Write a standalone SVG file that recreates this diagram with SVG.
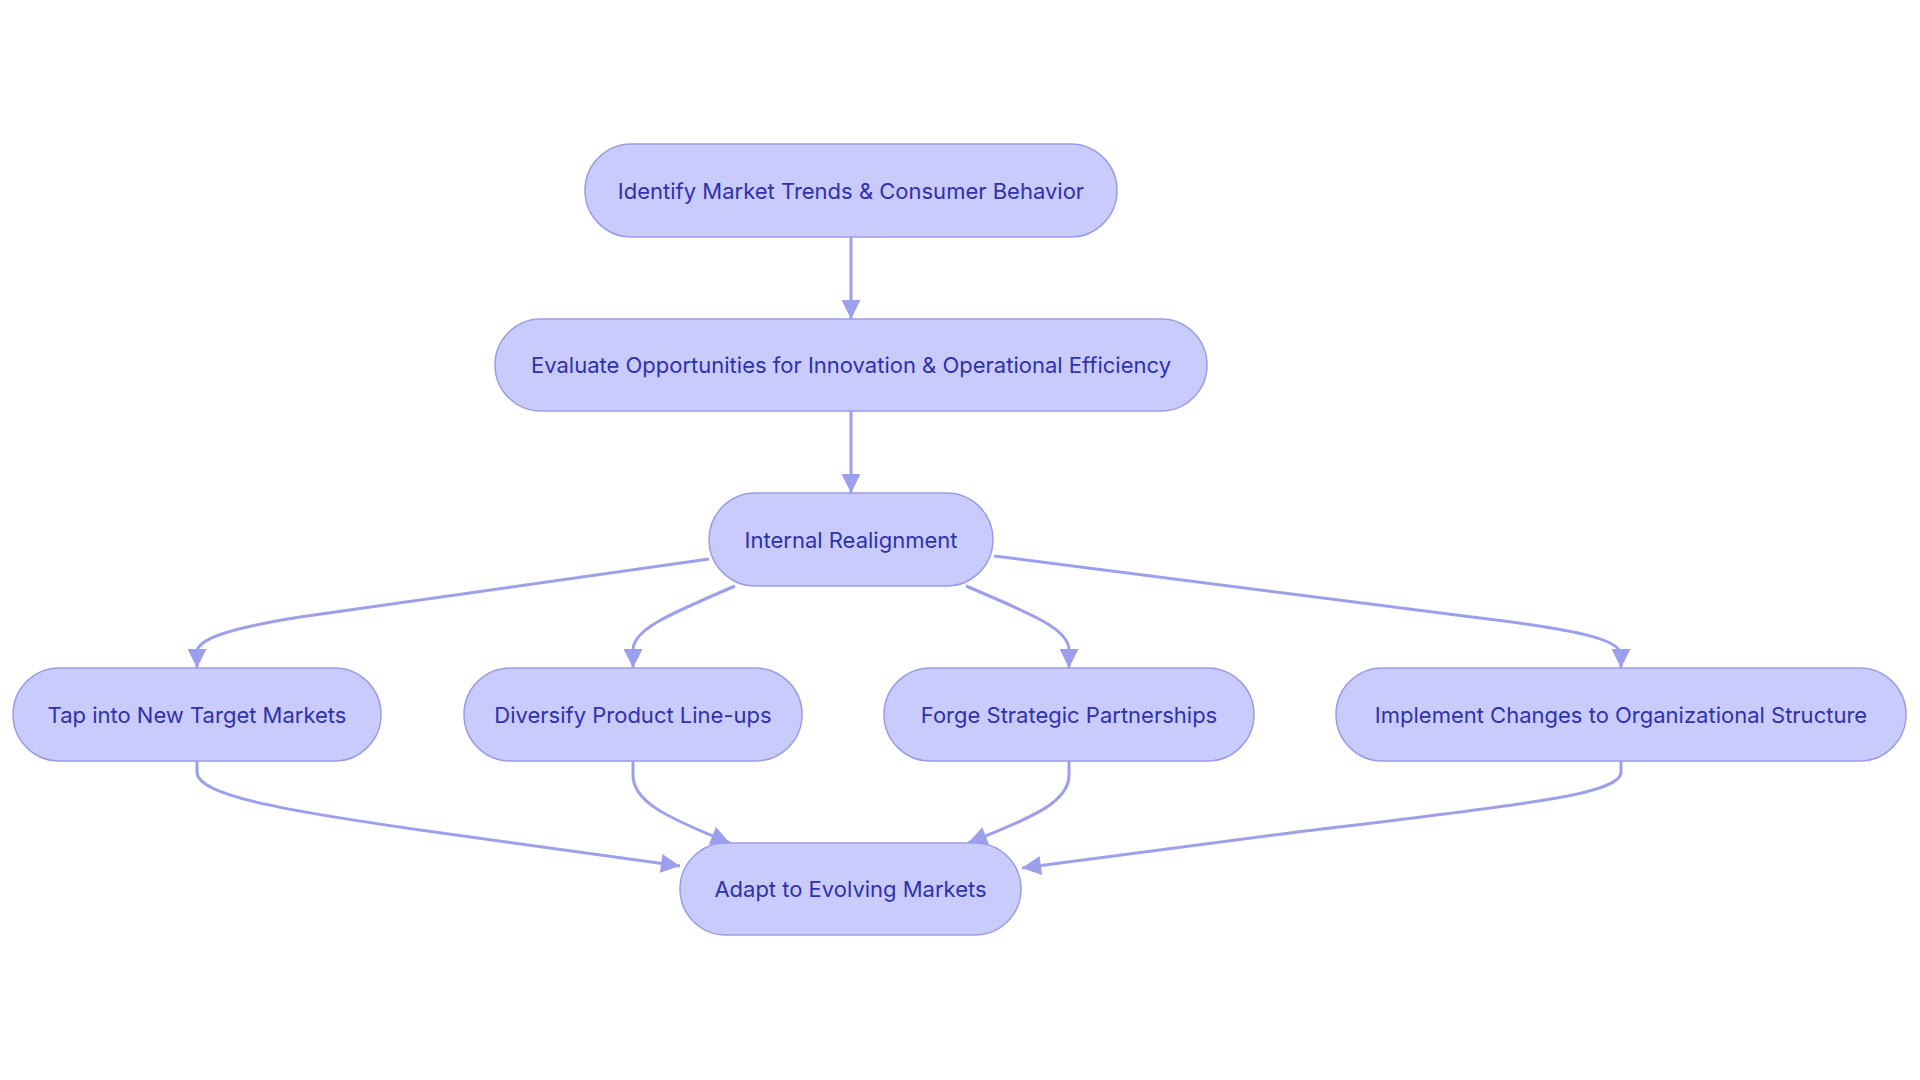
<svg xmlns="http://www.w3.org/2000/svg" width="1920" height="1080" viewBox="0 0 1920 1080">
<style>
.node rect{fill:#c8cbfc;stroke:#9a9de6;stroke-width:1.5}
.node text{font-family:Inter,"Noto Sans",sans-serif;font-size:22px;fill:#2f31ad;text-anchor:middle;dominant-baseline:central}
.edges path{fill:none;stroke:#9c9fec;stroke-width:3;marker-end:url(#arrow)}
</style>
<defs>
<marker id="arrow" viewBox="0 0 10 10" refX="10" refY="5" markerUnits="userSpaceOnUse" markerWidth="20" markerHeight="19" orient="auto">
<path d="M0,0 L10,5 L0,10 z" fill="#9c9fec"/>
</marker>
</defs>
<rect width="1920" height="1080" fill="#ffffff"/>
<g class="edges">
<path d="M851,237 L851,319"/>
<path d="M851,411 L851,493"/>
<path d="M709,559 L300,617 C225,629 197,640 197,652 L197,668"/>
<path d="M735,586 C665,616 633,630 633,650 L633,668"/>
<path d="M966,586 C1037,616 1069,630 1069,650 L1069,668"/>
<path d="M994,556 L1480,618 C1580,630 1621,640 1621,655 L1621,668"/>
<path d="M197,761 L197,772 C197,795 280,810 420,830 L680,866"/>
<path d="M633,761 L633,775 C633,800 660,815 730,843"/>
<path d="M1069,761 L1069,775 C1069,800 1040,815 968,843"/>
<path d="M1621,761 L1621,772 C1621,795 1520,805 1290,833 L1022,868"/>
</g>
<g id="n1" class="node"><rect x="585" y="144" width="532" height="93" rx="46.5"/><text x="851" y="190.5">Identify Market Trends &amp; Consumer Behavior</text></g>
<g id="n2" class="node"><rect x="495" y="319" width="712" height="92" rx="46"/><text x="851" y="365">Evaluate Opportunities for Innovation &amp; Operational Efficiency</text></g>
<g id="n3" class="node"><rect x="709" y="493" width="284" height="93" rx="46.5"/><text x="851" y="539.5">Internal Realignment</text></g>
<g id="n4" class="node"><rect x="13" y="668" width="368" height="93" rx="46.5"/><text x="197" y="714.5">Tap into New Target Markets</text></g>
<g id="n5" class="node"><rect x="464" y="668" width="338" height="93" rx="46.5"/><text x="633" y="714.5">Diversify Product Line-ups</text></g>
<g id="n6" class="node"><rect x="884" y="668" width="370" height="93" rx="46.5"/><text x="1069" y="714.5">Forge Strategic Partnerships</text></g>
<g id="n7" class="node"><rect x="1336" y="668" width="570" height="93" rx="46.5"/><text x="1621" y="714.5">Implement Changes to Organizational Structure</text></g>
<g id="n8" class="node"><rect x="680" y="843" width="341" height="92" rx="46"/><text x="850.5" y="889">Adapt to Evolving Markets</text></g>
</svg>
